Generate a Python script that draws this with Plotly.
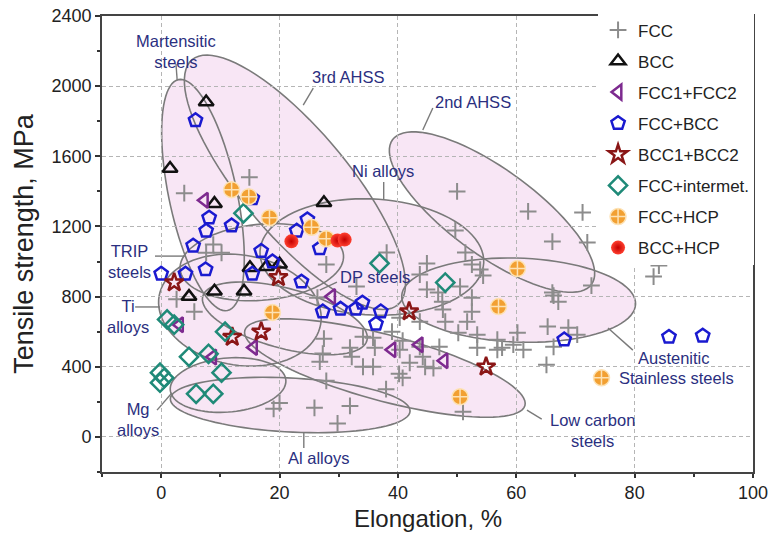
import numpy as np
import plotly.graph_objects as go

# ---- data: (elongation %, tensile strength MPa) per phase constitution ----
fcc_x = [14.9, 3.9, 8.8, 7.6, 10.2, 2.6, 5.6, 27.5, 27.3, 20.0, 19.0, 25.9, 31.9, 29.8, 27.9, 26.4,
         26.8, 27.9, 34.1, 35.8, 38.0, 40.2, 40.8, 42.0, 44.6, 46.0, 51.0,
         38.1, 44.9, 43.7, 33.0, 44.9, 46.8, 47.5, 50.5, 52.5, 52.5, 51.7, 48.0, 40.3, 43.7,
         53.9, 54.4, 52.5, 51.4, 50.2, 53.4, 56.8, 57.6, 59.5, 60.2, 61.2, 65.3, 66.1, 56.8,
         40.8, 47.0, 53.4, 31.9, 32.2, 34.1, 35.8, 36.1, 40.3, 43.7, 44.2,
         39.0, 47.6, 50.0, 62.0, 66.1, 49.7, 71.2, 72.0, 84.1, 83.2, 72.7, 66.3, 67.1,
         68.8, 70.3, 66.3, 65.1]
fcc_y = [1480, 1390, 1097, 1050, 1050, 785, 714, 560, 475, 194, 160, 166, 177, 77, 983, 794,
         429, 320, 400, 400, 272, 360, 337, 423, 400, 392, 143,
         1051, 989, 926, 857, 840, 823, 771, 857, 794, 714, 657, 657, 680, 657,
         954, 920, 983, 1051, 594, 583, 554, 509, 526, 594, 497, 629, 823, 497,
         549, 514, 509, 509, 457, 571, 566, 509, 497, 514, 457,
         600, 726, 1400, 1286, 1114, 1177, 1280, 1109, 977, 914, 863, 806, 771,
         623, 583, 514, 411]

bcc_x = [7.6, 1.5, 9.0, 27.5, 4.7, 9.0, 14.0, 15.0, 17.8, 20.0]
bcc_y = [1910, 1530, 1330, 1335, 800, 830, 830, 965, 970, 985]

fcc2_x = [7.3, 3.1, 8.7, 15.6, 28.8, 39.0, 43.6, 47.8]
fcc2_y = [1350, 640, 455, 510, 800, 497, 526, 434]

fccbcc_x = [5.8, 15.4, 8.1, 7.6, 11.9, 5.4, 16.9, 22.9, 24.7, 26.8, 18.8, 0.0, 4.1, 7.5, 15.4,
            23.7, 27.3, 30.3, 32.9, 34.0, 37.1, 36.3, 68.1, 85.8, 91.5]
fccbcc_y = [1805, 1360, 1250, 1175, 1205, 1090, 1060, 1175, 1240, 1075, 1000, 930, 930, 955, 930,
            885, 715, 730, 730, 765, 715, 645, 555, 570, 577]

bcc2_x = [2.2, 19.8, 12.0, 16.9, 41.9, 54.9]
bcc2_y = [880, 910, 570, 600, 715, 400]

inter_x = [13.9, 1.0, 2.2, 10.8, 4.7, 8.0, 10.2, -0.2, 0.5, -0.2, 5.9, 8.8, 36.9, 48.0]
inter_y = [1275, 670, 640, 600, 457, 474, 366, 366, 337, 309, 246, 246, 990, 880]

fcchcp_x = [11.9, 14.8, 18.3, 25.4, 27.9, 18.8, 60.2, 57.0, 50.5, 74.4]
fcchcp_y = [1410, 1370, 1250, 1195, 1130, 710, 960, 743, 229, 337]

bcchcp_x = [22.0, 29.8, 31.0]
bcchcp_y = [1115, 1120, 1125]

# ---- property regions of conventional alloys ----
# (name, centre elongation %, centre strength MPa, half-length px, half-width px, tilt deg)
regions = [
    ("Martensitic steels", 7.06, 1379, 118, 34, 78),
    ("3rd AHSS", 22.6, 1452, 160, 53, 50),
    ("2nd AHSS", 55.9, 1282, 123, 43, 36),
    ("Ni alloys", 35.6, 1026, 112, 58, 3),
    ("TRIP steels", 17.0, 996, 82, 38, -5),
    ("Ti alloys", 13.3, 723, 82, 55, 10),
    ("DP steels", 20.9, 676, 85, 30, 15),
    ("Austenitic stainless steels", 60.4, 780, 117, 42, 2),
    ("Low carbon steels", 37.8, 393, 145, 33, 15),
    ("Al alloys", 21.8, 182, 120, 27, 3),
    ("Mg alloys", 11.3, 296, 58, 27, -5),
]

X_RANGE = (-10, 100)
Y_RANGE = (-200, 2400)
W, H = 772, 533
M = dict(l=102, r=19, t=16, b=61)
PLOT_H = H - M["t"] - M["b"]
XS = (W - M["l"] - M["r"]) / (X_RANGE[1] - X_RANGE[0])
YS = PLOT_H / (Y_RANGE[1] - Y_RANGE[0])


def ellipse_path(cx, cy, a, b, ang):
    t = np.linspace(0, 2 * np.pi, 90, endpoint=False)
    th = np.radians(ang)
    u, v = a * np.cos(t), b * np.sin(t)
    dx = u * np.cos(th) - v * np.sin(th)
    dy = u * np.sin(th) + v * np.cos(th)
    xs = cx + dx / XS
    ys = cy - dy / YS
    return "M " + " L ".join(f"{x:.3f},{y:.2f}" for x, y in zip(xs, ys)) + " Z"


shapes = []
for r in regions:
    shapes.append(dict(type="path", path=ellipse_path(*r[1:]), xref="x", yref="y",
                       fillcolor="#f8e6f5", line=dict(width=0), layer="below"))
for r in regions:
    shapes.append(dict(type="path", path=ellipse_path(*r[1:]), xref="x", yref="y",
                       fillcolor="rgba(0,0,0,0)", line=dict(color="#7a7a7a", width=1.6),
                       layer="below"))

# leader lines from labels to their regions
leaders = [
    ((2.5, 2126), (2.7, 2035)),
    ((25.7, 1989), (24.0, 1892)),
    ((45.9, 1875), (44.2, 1750)),
    ((37.6, 1453), (37.6, 1356)),
    ((-1.05, 1031), (4.0, 1031)),
    ((-4.4, 741), (-0.2, 741)),
    ((29.7, 883), (26.8, 837)),
    ((79.7, 495), (75.5, 621)),
    ((64.3, 102), (61.8, 153)),
    ((24.1, 28), (24.1, -63)),
    ((-0.7, 153), (1.8, 250)),
]
for (x0, y0), (x1, y1) in leaders:
    shapes.append(dict(type="line", x0=x0, y0=y0, x1=x1, y1=y1, xref="x", yref="y",
                       line=dict(color="#7a7a7a", width=1.4), layer="below"))

LABEL = dict(family="Liberation Sans, Arial", size=16.5, color="#2b2f80")
labels = [
    ("Martensitic<br>steels", 2.5, 2200, "center"),
    ("3rd AHSS", 31.6, 2052, "center"),
    ("2nd AHSS", 52.7, 1909, "center"),
    ("Ni alloys", 37.4, 1516, "center"),
    ("TRIP<br>steels", -1.4, 1003, "right"),
    ("Ti<br>alloys", -5.6, 684, "center"),
    ("DP steels", 36.2, 912, "center"),
    ("Austenitic", 86.6, 450, "center"),
    ("Stainless steels", 77.0, 336, "left"),
    ("Low carbon<br>steels", 72.8, 34, "center"),
    ("Al alloys", 26.5, -120, "center"),
    ("Mg<br>alloys", -3.9, 102, "center"),
]
annotations = [dict(text=t, x=x, y=y, xref="x", yref="y", showarrow=False,
                    xanchor=xa, yanchor="middle", align="center", font=LABEL)
               for t, x, y, xa in labels]

# x-axis title placed below the tick labels
annotations.append(dict(text="Elongation, %", x=0.5, y=-46 / PLOT_H, xref="paper",
                        yref="paper", showarrow=False, xanchor="center", yanchor="middle",
                        font=dict(family="Liberation Sans, Arial", size=24, color="#222")))

fig = go.Figure()


def add(name, xs, ys, marker):
    fig.add_trace(go.Scatter(x=xs, y=ys, mode="markers", name=name, legendgroup=name,
                             marker=marker, cliponaxis=False))


add("FCC", fcc_x, fcc_y, dict(symbol="cross-thin", size=12, color="#8c8c8c",
                              line=dict(color="#8c8c8c", width=2)))
add("BCC", bcc_x, bcc_y, dict(symbol="triangle-up-open", size=13, color="#111111",
                              line=dict(color="#111111", width=2.5)))
add("FCC1+FCC2", fcc2_x, fcc2_y, dict(symbol="triangle-left-open", size=13, color="#7d2a8f",
                                      line=dict(color="#7d2a8f", width=2.5)))
add("FCC+BCC", fccbcc_x, fccbcc_y, dict(symbol="pentagon-open", size=14, color="#1a1ad0",
                                        line=dict(color="#1a1ad0", width=2.5)))
add("BCC1+BCC2", bcc2_x, bcc2_y, dict(symbol="star-open", size=14, color="#8a1616",
                                      line=dict(color="#8a1616", width=2.5)))
add("FCC+intermet.", inter_x, inter_y, dict(symbol="diamond-open", size=14, color="#1f8a78",
                                             line=dict(color="#1f8a78", width=2.5)))
add("FCC+HCP", fcchcp_x, fcchcp_y, dict(symbol="circle-cross", size=16, color="#f2a032",
                                        line=dict(color="#fde2b4", width=1.5)))
add("BCC+HCP", bcchcp_x, bcchcp_y, dict(symbol="circle", size=14, color="#ff4030",
                                        gradient=dict(type="radial", color="#c40000"),
                                        line=dict(width=0)))

AX = dict(family="Liberation Sans, Arial", size=18, color="#222222")
fig.update_layout(
    width=W, height=H, margin=M,
    paper_bgcolor="white", plot_bgcolor="white",
    shapes=shapes, annotations=annotations,
    showlegend=True,
    legend=dict(x=0.762, y=1.008, xanchor="left", yanchor="top", bgcolor="white",
                borderwidth=0, font=dict(family="Liberation Sans, Arial", size=17,
                                         color="#222222"),
                tracegroupgap=6, itemsizing="trace"),
    xaxis=dict(range=list(X_RANGE), tickvals=[0, 20, 40, 60, 80, 100], ticks="outside",
               ticklen=4, tickwidth=1.5, tickcolor="#333", showline=True, linecolor="#444",
               linewidth=1.6, mirror=True, showgrid=True, gridcolor="#b5b5b5",
               griddash="4px,3px", gridwidth=1, zeroline=False, tickfont=AX,
               automargin=False,
               minor=dict(dtick=10, tick0=0, ticks="outside", ticklen=3, tickcolor="#333",
                          showgrid=False)),
    yaxis=dict(range=list(Y_RANGE), tickvals=[0, 400, 800, 1200, 1600, 2000, 2400],
               ticks="outside", ticklen=5, tickwidth=1.5, tickcolor="#333", showline=True,
               linecolor="#444", linewidth=1.6, mirror=True, showgrid=True,
               gridcolor="#b5b5b5", griddash="4px,3px", gridwidth=1, zeroline=False,
               tickfont=AX, automargin=False,
               minor=dict(dtick=200, tick0=0, ticks="outside", ticklen=3, tickcolor="#333",
                          showgrid=False),
               title=dict(text="Tensile strength, MPa", standoff=10,
                          font=dict(family="Liberation Sans, Arial", size=27, color="#222"))),
)

fig.write_html("out.html")
